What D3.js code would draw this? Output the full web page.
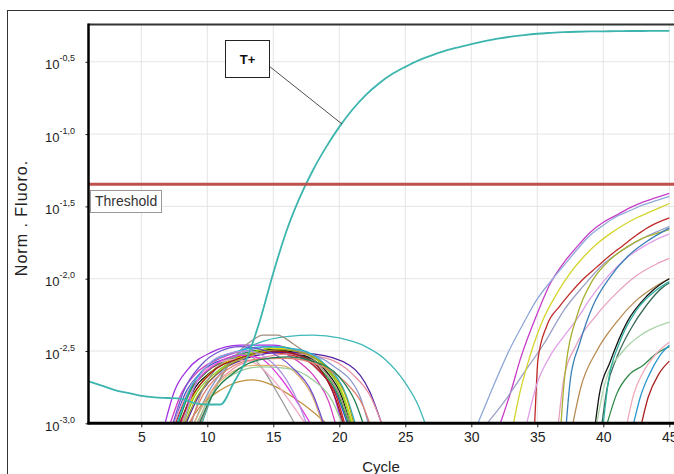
<!DOCTYPE html>
<html><head><meta charset="utf-8">
<script src="https://cdn.jsdelivr.net/npm/d3@7"></script>
<style>
html,body{margin:0;padding:0;background:#fff;}
svg{display:block;font-family:"Liberation Sans",Arial,sans-serif;}
</style></head>
<body><svg id="chart" width="674" height="474"></svg>
<script>
// ---------- DATA (values are log10 of Norm. Fluoro.) ----------
const xTickValues = [5,10,15,20,25,30,35,40,45];
const yTickValues = [-3.0,-2.5,-2.0,-1.5,-1.0,-0.5];
const yTickLabels = ["-3,0","-2,5","-2,0","-1,5","-1,0","-0,5"];
const thresholdLog = -1.347;
const thresholdLabel = "Threshold";
const positiveLabel = "T+";

const tPosCycles = [1,2,3,4,5,6,7,8,9,10,11,12,13,14,15,16,17,18,19,20,21,22,23,24,25,26,27,28,29,30,31,32,33,34,35,36,37,38,39,40,41,42,43,44,45];
const tPosLog = [-2.71,-2.74,-2.77,-2.79,-2.81,-2.82,-2.825,-2.83,-2.86,-2.87,-2.87,-2.72,-2.55,-2.285,-1.96,-1.67,-1.44,-1.25,-1.09,-0.95,-0.83,-0.73,-0.65,-0.585,-0.535,-0.49,-0.455,-0.425,-0.40,-0.377,-0.357,-0.34,-0.326,-0.315,-0.306,-0.30,-0.295,-0.292,-0.29,-0.289,-0.288,-0.287,-0.287,-0.286,-0.286];

// early "hump" curves: [cycle, log10 fluoro]
const humpSeries = [
 [[6.8,-3],[7.5,-2.78],[8.5,-2.63],[10.3,-2.51],[12.5,-2.46],[15,-2.46],[17,-2.52],[18.5,-2.62],[19.5,-2.78],[20.2,-3]],
 [[7.2,-3],[8,-2.8],[9,-2.67],[11,-2.55],[13,-2.5],[15,-2.5],[17,-2.58],[18.3,-2.7],[19.2,-2.85],[19.7,-3]],
 [[7.5,-3],[8.3,-2.8],[9.5,-2.65],[11.5,-2.55],[14,-2.5],[16.5,-2.52],[18.5,-2.64],[19.8,-2.8],[20.6,-3]],
 [[7.6,-3],[8.5,-2.8],[10,-2.64],[12,-2.55],[14.5,-2.51],[16.5,-2.53],[18.5,-2.64],[19.8,-2.82],[20.4,-3]],
 [[7.8,-3],[8.6,-2.8],[10,-2.64],[12,-2.54],[14.5,-2.49],[16.5,-2.51],[18.5,-2.62],[19.9,-2.8],[20.7,-3]],
 [[8,-3],[8.8,-2.8],[10.2,-2.65],[12.5,-2.54],[15,-2.49],[17,-2.52],[19,-2.64],[20.2,-2.82],[20.8,-3]],
 [[8.1,-3],[9,-2.8],[10.5,-2.63],[12.5,-2.54],[15,-2.48],[17,-2.5],[19,-2.62],[20.3,-2.8],[21,-3]],
 [[8.2,-3],[9,-2.82],[10.5,-2.66],[13,-2.53],[15.3,-2.47],[17.2,-2.51],[19,-2.62],[20.3,-2.82],[20.9,-3]],
 [[8.4,-3],[9.3,-2.82],[11,-2.64],[13,-2.55],[15.5,-2.51],[18,-2.52],[20.8,-2.6],[22.3,-2.78],[23.2,-3]],
 [[9.3,-3],[10.2,-2.8],[12,-2.62],[14,-2.55],[16.5,-2.52],[19,-2.55],[21,-2.66],[22.4,-2.82],[23.2,-3]],
 [[9,-3],[10,-2.8],[11.5,-2.6],[13,-2.5],[15,-2.47],[17,-2.5],[19.5,-2.6],[21.5,-2.8],[22.2,-3]],
 [[9.6,-3],[10.5,-2.78],[12,-2.55],[14,-2.44],[16,-2.4],[18,-2.39],[20,-2.41],[22,-2.47],[23.5,-2.56],[25,-2.72],[26,-2.88],[26.5,-3]],
 [[9.5,-3],[10.5,-2.78],[12,-2.55],[13.5,-2.42],[14.2,-2.39],[15.3,-2.39],[16.5,-2.45],[18.5,-2.6],[20,-2.8],[20.8,-3]],
 [[8.6,-3],[9.5,-2.88],[11,-2.77],[12.5,-2.71],[13.5,-2.7],[15,-2.74],[16.5,-2.82],[18,-2.92],[19,-3]],
 [[8.8,-3],[9.5,-2.8],[10.5,-2.64],[12,-2.54],[13,-2.52],[14,-2.6],[15.5,-2.82],[16.6,-3]],
 [[7.5,-3],[8.5,-2.78],[10,-2.62],[12,-2.56],[13.5,-2.58],[15,-2.7],[16.5,-2.88],[17.4,-3]],
 [[8.0,-3],[9,-2.75],[10.5,-2.6],[12.5,-2.53],[14,-2.55],[15.5,-2.68],[17,-2.88],[17.8,-3]],
 [[9,-3],[10,-2.82],[11.5,-2.67],[13.5,-2.6],[15.5,-2.6],[17,-2.68],[18,-2.82],[18.7,-3]],
 [[9.2,-3],[10.2,-2.82],[12,-2.66],[14,-2.61],[16,-2.62],[18,-2.7],[19.5,-2.85],[20.2,-3]],
 [[7.7,-3],[8.6,-2.78],[10,-2.6],[12,-2.51],[14.5,-2.47],[17,-2.49],[19,-2.6],[20.5,-2.8],[21.2,-3]],
 [[7.9,-3],[8.8,-2.82],[10.3,-2.65],[12.5,-2.55],[15,-2.5],[17,-2.53],[18.8,-2.66],[19.8,-2.85],[20.3,-3]],
 [[8.3,-3],[9.2,-2.82],[10.8,-2.65],[13,-2.54],[15.5,-2.49],[17.5,-2.52],[19.3,-2.64],[20.6,-2.84],[21.1,-3]],
 [[7.4,-3],[8.2,-2.78],[9.5,-2.6],[11,-2.5],[12.5,-2.47],[14.5,-2.5],[16.5,-2.62],[18,-2.8],[18.8,-3]],
 [[8.7,-3],[9.7,-2.8],[11.5,-2.63],[13.5,-2.56],[16,-2.55],[18.5,-2.6],[20.5,-2.72],[21.8,-2.88],[22.3,-3]],
 [[8.2,-3],[9,-2.75],[10,-2.6],[11.5,-2.52],[13,-2.5],[14.5,-2.55],[16,-2.7],[17,-2.88],[17.5,-3]],
 [[9.4,-3],[10.3,-2.82],[12,-2.65],[14,-2.56],[16,-2.54],[18,-2.57],[20,-2.68],[21.2,-2.85],[21.8,-3]]
];
const humpColors = ["#a030e0","#d040c0","#3050d0","#d02020","#20a040","#111111","#dddd00","#88cc22",
 "#5020a0","#e890a0","#8899cc","#40b8b8","#a09080","#c09040","#999999","#f0a8c8","#e040e0","#e0b070",
 "#99cc99","#20b0d0","#a01818","#a0a020","#7050d0","#e08070","#b090e0","#208050"];

// late rising curves
const riseSeries = [
 [[32.2,-3],[33,-2.78],[33.7,-2.56],[35,-2.24],[36,-2.03],[37,-1.89],[38,-1.78],[39,-1.68],[40,-1.61],[41,-1.56],[42,-1.51],[43,-1.47],[44,-1.44],[45,-1.41]],
 [[30.5,-3],[31.5,-2.78],[32.9,-2.49],[34,-2.3],[35,-2.14],[36,-2.02],[37,-1.91],[38,-1.8],[39,-1.7],[40,-1.63],[41,-1.57],[42,-1.53],[43,-1.49],[44,-1.46],[45,-1.43]],
 [[31.2,-3],[32.5,-2.85],[34,-2.65],[35.5,-2.45],[37,-2.22],[38.5,-2.05],[40,-1.9],[41.5,-1.8],[43,-1.72],[45,-1.64]],
 [[33.2,-3],[33.6,-2.82],[34.2,-2.61],[35.4,-2.29],[36.5,-2.1],[37.5,-1.96],[38.5,-1.85],[39.5,-1.76],[40.5,-1.69],[41.5,-1.63],[42.5,-1.58],[43.5,-1.54],[45,-1.48]],
 [[34.8,-3],[34.9,-2.8],[35.05,-2.56],[35.7,-2.33],[36.7,-2.19],[37.5,-2.1],[38.5,-2.0],[39.5,-1.92],[40.5,-1.84],[41.5,-1.77],[42.5,-1.7],[43.5,-1.64],[45,-1.58]],
 [[34.2,-3],[35,-2.72],[36,-2.53],[37,-2.4],[38,-2.28],[39,-2.14],[40,-2.02],[41,-1.92],[42,-1.84],[43,-1.78],[44,-1.73],[45,-1.69]],
 [[36.6,-3],[37,-2.7],[38,-2.45],[39.5,-2.25],[41,-2.1],[42.5,-1.98],[44,-1.9],[45,-1.86]],
 [[36.8,-3],[37.0,-2.75],[37.2,-2.58],[38,-2.26],[39.2,-2.01],[40.5,-1.87],[41.8,-1.78],[43,-1.72],[44.3,-1.68],[45,-1.66]],
 [[37.2,-3],[37.5,-2.7],[38.2,-2.45],[39.2,-2.19],[40.5,-1.99],[41.8,-1.85],[43.5,-1.73],[45,-1.65]],
 [[37.7,-3],[38.3,-2.75],[39.5,-2.5],[41,-2.3],[42.5,-2.15],[44,-2.05],[45,-2.0]],
 [[39.4,-3],[39.7,-2.8],[40.5,-2.58],[41.8,-2.3],[43.3,-2.12],[44.3,-2.04],[45,-2.0]],
 [[39.9,-3],[40.3,-2.75],[41,-2.55],[42,-2.36],[43.3,-2.18],[44.5,-2.06],[45,-2.03]],
 [[39.5,-3],[40.2,-2.7],[41.5,-2.5],[43,-2.38],[45,-2.3]],
 [[40.3,-3],[41,-2.8],[42,-2.66],[43,-2.6],[44,-2.52],[45,-2.47]],
 [[41.8,-3],[42.3,-2.8],[43,-2.65],[44,-2.52],[45,-2.44]],
 [[42.3,-3],[42.8,-2.82],[43.5,-2.66],[44.3,-2.53],[45,-2.46]],
 [[42.9,-3],[43.4,-2.82],[44.2,-2.66],[45,-2.57]],
 [[40.0,-3],[40.4,-2.7],[41.2,-2.45],[42.5,-2.22],[44,-2.08],[45,-2.02]]
];
const riseColors = ["#c83cc8","#8fa8d8","#9aa0c8","#d4d42a","#c02828","#e0a0e8","#e8a0c0","#a8b030",
 "#3a80b8","#b88a50","#151515","#3c6a58","#a8d4a8","#2f8a4a","#f0a8b8","#2a98d0","#a82020","#30b0a0"];

// ---------- CHART ----------
const svg = d3.select("#chart");
const plot = {left:88.5, top:24.5, bottom:423.3, right:690};

const x = d3.scaleLinear().domain([1,45]).range([88.5,669.3]);
const y = d3.scaleLinear().domain([-3,-0.242]).range([plot.bottom, plot.top]);

// outer frame
svg.append("rect").attr("x",7.5).attr("y",10.5).attr("width",720).attr("height",520)
  .attr("fill","none").attr("stroke","#333").attr("stroke-width",1);

svg.append("defs").append("clipPath").attr("id","clip").append("rect")
  .attr("x",plot.left).attr("y",plot.top).attr("width",plot.right-plot.left).attr("height",plot.bottom-plot.top);

// gridlines
const grid = svg.append("g");
grid.selectAll(".vg").data(xTickValues).join("line")
  .attr("x1",d=>x(d)).attr("x2",d=>x(d)).attr("y1",plot.top).attr("y2",plot.bottom)
  .attr("stroke","#e4e4e4").attr("stroke-width",1);
grid.selectAll(".hg").data(yTickValues.slice(1)).join("line")
  .attr("x1",plot.left).attr("x2",plot.right).attr("y1",d=>y(d)).attr("y2",d=>y(d))
  .attr("stroke","#e4e4e4").attr("stroke-width",1);

const line = d3.line().x(d=>x(d[0])).y(d=>y(d[1])).curve(d3.curveMonotoneX);
const curves = svg.append("g").attr("clip-path","url(#clip)");

curves.selectAll(".hump").data(humpSeries).join("path")
  .attr("d",line).attr("fill","none").attr("stroke",(d,i)=>humpColors[i]).attr("stroke-width",1.3);
curves.selectAll(".rise").data(riseSeries).join("path")
  .attr("d",line).attr("fill","none").attr("stroke",(d,i)=>riseColors[i]).attr("stroke-width",1.3);

const tPos = tPosCycles.map((c,i)=>[c,tPosLog[i]]);
curves.append("path").datum(tPos).attr("d",line).attr("fill","none")
  .attr("stroke","#3db5ae").attr("stroke-width",1.8);

// threshold
svg.append("line").attr("x1",plot.left).attr("x2",plot.right)
  .attr("y1",y(thresholdLog)).attr("y2",y(thresholdLog))
  .attr("stroke","#c0504d").attr("stroke-width",3);
svg.append("rect").attr("x",90.5).attr("y",190.5).attr("width",71).attr("height",22)
  .attr("fill","#fff").attr("stroke","#999").attr("stroke-width",1);
svg.append("text").attr("x",95).attr("y",205.5).attr("font-size",14).attr("fill","#333")
  .text(thresholdLabel);

// axes
const xAxis = svg.append("g").attr("transform",`translate(0,${plot.bottom})`)
  .call(d3.axisBottom(x).tickValues(xTickValues).tickSize(4).tickPadding(5).tickFormat(d3.format("d")));
xAxis.select(".domain").remove();
xAxis.selectAll("text").attr("font-size",14).attr("fill","#222").attr("font-family","'Liberation Sans',Arial,sans-serif");
xAxis.selectAll("line").attr("stroke","#222");

const yAxis = svg.append("g").attr("transform",`translate(${plot.left},0)`)
  .call(d3.axisLeft(y).tickValues(yTickValues).tickSize(3).tickFormat(""));
yAxis.select(".domain").remove();
yAxis.selectAll("line").attr("stroke","#222");
yAxis.selectAll(".tick").each(function(d){
  const i = yTickValues.indexOf(d);
  const t = d3.select(this).append("text").attr("x",-43.5).attr("y",7)
    .attr("text-anchor","start").attr("fill","#222").attr("font-size",13);
  t.append("tspan").text("10");
  t.append("tspan").attr("dy",-8).attr("font-size",9).text(yTickLabels[i]);
});

// frame lines
svg.append("line").attr("x1",plot.left).attr("x2",plot.right).attr("y1",plot.top).attr("y2",plot.top)
  .attr("stroke","#333").attr("stroke-width",2);
svg.append("line").attr("x1",plot.left).attr("x2",plot.left).attr("y1",plot.top-1).attr("y2",plot.bottom+1)
  .attr("stroke","#000").attr("stroke-width",2.5);
svg.append("line").attr("x1",plot.left-1).attr("x2",plot.right).attr("y1",plot.bottom).attr("y2",plot.bottom)
  .attr("stroke","#000").attr("stroke-width",3);

// axis titles
svg.append("text").attr("x",381).attr("y",472).attr("text-anchor","middle")
  .attr("font-size",15).attr("fill","#222").text("Cycle");
svg.append("text").attr("transform","translate(27,218) rotate(-90)").attr("text-anchor","middle")
  .attr("font-size",16).attr("letter-spacing",1).attr("fill","#222").text("Norm . Fluoro.");

// T+ annotation
svg.append("line").attr("x1",269).attr("y1",66).attr("x2",x(20.2)).attr("y2",y(-0.93))
  .attr("stroke","#222").attr("stroke-width",0.8);
svg.append("rect").attr("x",225.5).attr("y",40.5).attr("width",44).attr("height",37)
  .attr("fill","#fff").attr("stroke","#222").attr("stroke-width",1);
svg.append("text").attr("x",247.5).attr("y",64).attr("text-anchor","middle")
  .attr("font-size",13).attr("font-weight","bold").attr("fill","#111").text(positiveLabel);
</script></body></html>
